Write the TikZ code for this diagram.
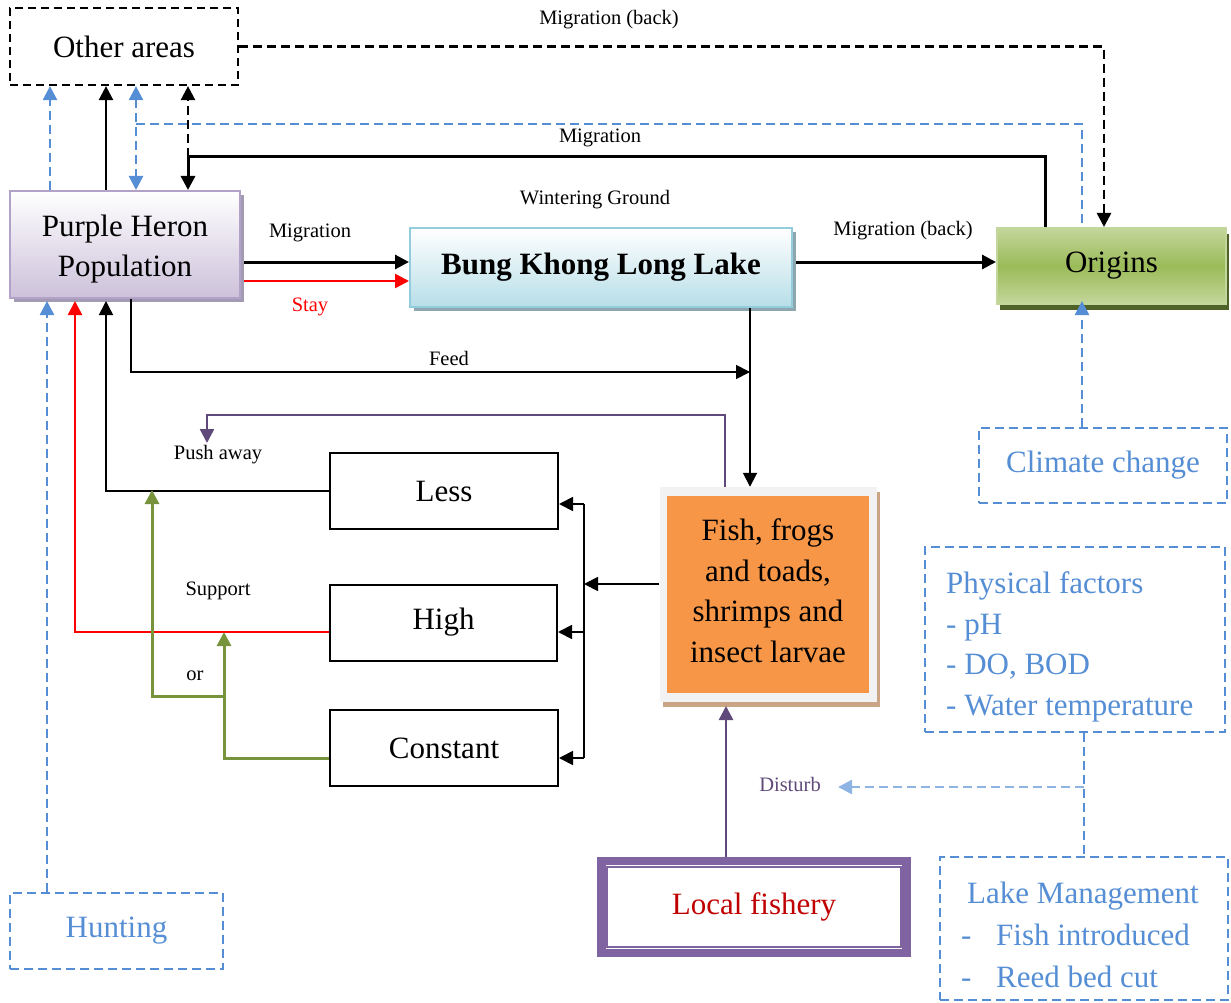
\documentclass[tikz,border=0pt]{standalone}
\usepackage{fontspec}
\setmainfont{Liberation Serif}
\usetikzlibrary{arrows.meta,shadows}
\definecolor{bl}{HTML}{558ED5}
\definecolor{lbl}{HTML}{8EB4E3}
\definecolor{pu}{HTML}{5F497A}
\definecolor{fr}{HTML}{8064A2}
\definecolor{gr}{HTML}{77933C}
\definecolor{phb}{HTML}{B3A2C7}
\definecolor{phf}{HTML}{CCC1DA}
\definecolor{phs}{HTML}{A39BB3}
\definecolor{bkb}{HTML}{93CDDD}
\definecolor{bkf}{HTML}{B7DEE8}
\definecolor{bks}{HTML}{8EA6B0}
\definecolor{org}{HTML}{9BBB59}
\definecolor{orl}{HTML}{C3D69B}
\definecolor{ors}{HTML}{4F6228}
\definecolor{fsh}{HTML}{F79646}
\definecolor{fsf}{HTML}{F2F2F2}
\definecolor{fss}{HTML}{C9A585}
\definecolor{dred}{HTML}{C00000}
\newcommand\bigfnt{\fontsize{31}{40.5}\selectfont}
\newcommand\smfnt{\fontsize{20.5}{24}\selectfont}
\begin{document}
\begin{tikzpicture}[x=1pt,y=-1pt,
  base/.style={rectangle, inner sep=0pt, align=center, font=\bigfnt},
  dbox/.style={base, draw=bl, line width=2.5pt, dash pattern=on 9pt off 5pt, text=bl},
  kbox/.style={base, draw=black, line width=2pt},
  lab/.style={font=\smfnt, inner sep=1pt},
  txt/.style={font=\bigfnt, inner sep=0pt},
  arr/.style={-{Triangle[length=14pt,width=14pt]}},
  arrb/.style={{Triangle[length=14pt,width=14pt]}-{Triangle[length=14pt,width=14pt]}},
  bdash/.style={draw=bl, line width=2.5pt, dash pattern=on 9pt off 5pt},
  kdash/.style={draw=black, line width=2.5pt, dash pattern=on 9pt off 5pt},
  blk/.style={draw=black, line width=2.5pt},
  blkt/.style={draw=black, line width=1.8pt},
  red/.style={draw=red, line width=2.5pt},
  grn/.style={draw=gr, line width=3pt},
  pur/.style={draw=pu, line width=2.5pt}]
\useasboundingbox (0,0) rectangle (1231,1003);

% boxes
\node[base, draw=black, line width=2.2pt, dash pattern=on 8pt off 5pt, minimum width=228pt, minimum height=77pt] (oth) at (124,46.5) {Other areas};
\node[base, draw=phb, line width=2pt, top color=white, bottom color=phf,
  general shadow={fill=phs, shadow xshift=4pt, shadow yshift=-4pt},
  minimum width=230pt, minimum height=107pt] (ph) at (125,244.5) {};
\node[txt, align=center] at (125,249) {Purple Heron\\Population};
\node[base, draw=bkb, line width=2pt, top color=white, bottom color=bkf,
  general shadow={fill=bks, shadow xshift=4pt, shadow yshift=-4pt},
  minimum width=382pt, minimum height=79pt, font=\bigfnt\bfseries] (bung) at (601,267.5) {Bung Khong Long Lake};
\node[base, draw=orl, line width=2pt, top color=orl, bottom color=orl, middle color=org,
  general shadow={fill=ors, shadow xshift=3pt, shadow yshift=-6pt},
  minimum width=229pt, minimum height=76pt] (ori) at (1111.5,266) {Origins};
\node[kbox, minimum width=228pt, minimum height=76pt] (less) at (444,491) {Less};
\node[kbox, minimum width=227pt, minimum height=76pt] (high) at (443.5,622.5) {High};
\node[kbox, minimum width=228pt, minimum height=76pt] (const) at (444,748) {Constant};
\node[base, fill=fsf, general shadow={fill=fss, shadow xshift=3pt, shadow yshift=-5pt},
  minimum width=217pt, minimum height=215pt] (fish) at (768,594.5) {};
\node[base, fill=fsh, minimum width=202pt, minimum height=197pt] (fishin) at (768,594.5) {};
\node[txt, align=center] at (768,590.5) {Fish, frogs\\and toads,\\shrimps and\\insect larvae};
\node[base, draw=fr, line width=8.5pt, minimum width=305pt, minimum height=92pt, text=dred] (lf) at (754,907) {Local fishery};
\draw[draw=fr, line width=1.6pt] ([shift={(10,10)}]lf.north west) rectangle ([shift={(-10,-10)}]lf.south east);
\node[dbox, minimum width=248pt, minimum height=75pt] (cc) at (1103,465.5) {Climate change};
\node[dbox, minimum width=300pt, minimum height=185pt] (pf) at (1075,639.5) {};
\node[txt, text=bl, anchor=base west] at (946,593) {Physical factors};
\node[txt, text=bl, anchor=base west] at (946,634) {- pH};
\node[txt, text=bl, anchor=base west] at (946,674) {- DO, BOD};
\node[txt, text=bl, anchor=base west] at (946,715) {- Water temperature};
\node[dbox, minimum width=288pt, minimum height=143pt] (lm) at (1084,928.5) {};
\node[txt, text=bl, anchor=base] at (1083,903) {Lake Management};
\node[txt, text=bl, anchor=base west] at (961,945) {-};
\node[txt, text=bl, anchor=base west] at (996,945) {Fish introduced};
\node[txt, text=bl, anchor=base west] at (961,987) {-};
\node[txt, text=bl, anchor=base west] at (996,987) {Reed bed cut};
\node[dbox, minimum width=213pt, minimum height=76pt] (hun) at (116.5,931) {Hunting};

% top connectors
\draw[bdash, arr] (50,0 |- ph.north) -- (50,0 |- oth.south);
\draw[blk, arr] (106,0 |- ph.north) -- (106,0 |- oth.south);
\draw[bdash, arrb] (136,0 |- oth.south) -- (136,0 |- ph.north);
\draw[bdash] (136,124) -- (1082,124) -- (1082,0 |- ori.north);
\draw[kdash, arr] (188,157) -- (188,0 |- oth.south);
\draw[draw=black, line width=3pt, arr] (1045,0 |- ori.north) -- (1045,157) -- (188,157) -- (188,0 |- ph.north);
\draw[kdash, arr] (oth.east) -- (1104,0 |- oth.east) -- (1104,0 |- ori.north);
\node[lab] at (609,20) {Migration (back)};
\node[lab] at (600,138) {Migration};
\node[lab] at (595,200) {Wintering Ground};

% middle row
\draw[draw=black, line width=3pt, arr] (244,262) -- (bung.west |- 0,262);
\draw[red, arr] (244,281) -- (bung.west |- 0,281);
\draw[draw=black, line width=3pt, arr] (796,262) -- (ori.west |- 0,262);
\node[lab] at (310,233) {Migration};
\node[lab, text=red] at (310,307) {Stay};
\node[lab] at (903,231) {Migration (back)};

% feed and lake to fish
\draw[blkt, arr] (131,0 |- ph.south) -- (131,372) -- (750,372);
\node[lab] at (449,358) {Feed};
\draw[blkt, arr] (750,0 |- bung.south) -- (750,0 |- fish.north);
\draw[pur, arr] (725,0 |- fish.north) -- (725,415) -- (207,415) -- (207,443);
\node[lab] at (218,455) {Push away};

% fish to levels
\draw[blkt, arr] (fish.west |- 0,584) -- (584,584);
\draw[blkt] (584,504) -- (584,758);
\draw[blkt, arr] (584,504) -- (less.east |- 0,504);
\draw[blkt, arr] (584,632) -- (high.east |- 0,632);
\draw[blkt, arr] (584,758) -- (const.east |- 0,758);

% levels to heron
\draw[draw=black, line width=1.6pt, arr] (less.west) -- (106,0 |- less.west) -- (106,301);
\draw[red, arr] (high.west |- 0,632) -- (75,632) -- (75,301);
\draw[grn, arr] (const.west |- 0,758) -- (224,758) -- (224,632);
\draw[grn, arr] (224,696) -- (152,696) -- (152,490);
\node[lab] at (218,591) {Support};
\node[lab] at (195,676) {or};

% bottom
\draw[bdash, arr] (47,0 |- hun.north) -- (47,301);
\draw[pur, arr] (726,0 |- lf.north) -- (726,706);
\draw[bdash, arr] (1082,0 |- cc.north) -- (1082,301);
\draw[bdash] (1084,0 |- pf.south) -- (1084,0 |- lm.north);
\draw[draw=lbl, line width=2.5pt, dash pattern=on 9pt off 5pt, arr] (1084,787) -- (838,787);
\node[lab, text=pu] at (790,784) {Disturb};
\end{tikzpicture}
\end{document}
